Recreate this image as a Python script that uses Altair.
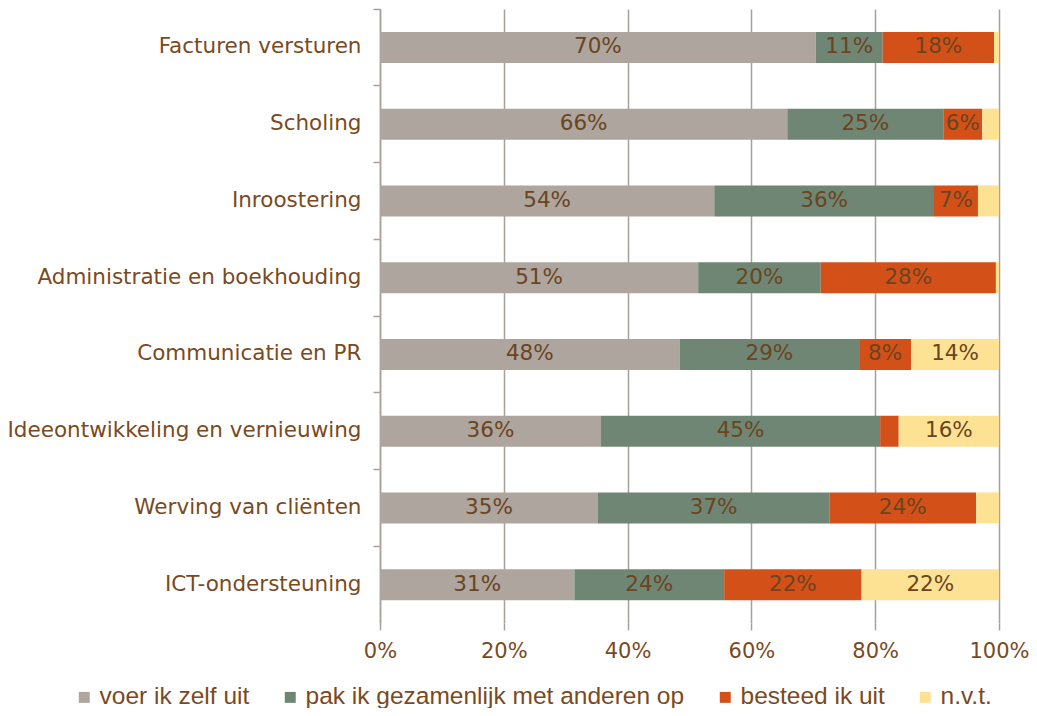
import altair as alt
import pandas as pd

categories = ["Facturen versturen", "Scholing", "Inroostering", "Administratie en boekhouding",
              "Communicatie en PR", "Ideeontwikkeling en vernieuwing", "Werving van cliënten",
              "ICT-ondersteuning"]
series = ["voer ik zelf uit", "pak ik gezamenlijk met anderen op", "besteed ik uit", "n.v.t."]
zelf = [70.4, 65.8, 54.0, 51.4, 48.4, 35.7, 35.2, 31.4]
samen = [10.8, 25.2, 35.5, 19.8, 29.0, 45.1, 37.4, 24.2]
uitbesteed = [18.0, 6.3, 7.1, 28.3, 8.4, 3.0, 23.7, 22.2]
nvt = [0.8, 2.7, 3.4, 0.5, 14.2, 16.2, 3.7, 22.2]
colors = ["#ADA59E", "#6F8674", "#D35018", "#FDE294"]
ticks = [0, 20, 40, 60, 80, 100]

rows = []
for si, (s, vals) in enumerate(zip(series, [zelf, samen, uitbesteed, nvt])):
    for c, v in zip(categories, vals):
        rows.append({"category": c, "series": s, "order": si, "value": v})
df = pd.DataFrame(rows)

brown = "#7A4A1E"
grid = "#A8A09A"

base = alt.Chart(df).transform_stack(
    stack="value", groupby=["category"], as_=["x0", "x1"],
    sort=[alt.SortField("order", order="ascending")]
).transform_calculate(
    mid="(datum.x0 + datum.x1) / 2",
    label="round(datum.value) + '%'"
)

yenc = alt.Y("category:N", sort=categories, title=None,
             scale=alt.Scale(paddingInner=0, paddingOuter=0),
             axis=alt.Axis(labelFont="DejaVu Sans", labelFontSize=21.5, labelColor=brown,
                           labelPadding=12, labelLimit=0, tickSize=7, tickColor=grid, tickWidth=1.5,
                           domainColor=grid, domainWidth=1.5, bandPosition=0, grid=False))

bars = base.mark_bar(height=31).encode(
    x=alt.X("x0:Q", scale=alt.Scale(domain=[0, 100], nice=False), title=None,
            axis=alt.Axis(values=ticks, labelExpr="datum.value + '%'", labelFlush=False,
                          labelFont="DejaVu Sans", labelFontSize=21, labelColor=brown,
                          labelPadding=10, tickSize=7, tickColor=grid, tickWidth=1.5,
                          domain=False, grid=True, gridColor=grid, gridWidth=1.5)),
    x2="x1:Q",
    y=yenc,
    color=alt.Color("series:N", sort=series,
                    scale=alt.Scale(domain=series, range=colors),
                    legend=alt.Legend(title=None, orient="none", direction="horizontal",
                                      legendX=-308, legendY=676,
                                      symbolType="square", symbolSize=120,
                                      symbolStrokeWidth=0, columnPadding=28,
                                      labelFont="Liberation Sans", labelFontSize=24.5,
                                      labelLimit=0, labelColor=brown, labelOffset=3)),
    order=alt.Order("order:Q"),
)

labels = base.transform_filter("datum.value >= 5").mark_text(
    font="DejaVu Sans", fontSize=21.5, color="#6B4420", baseline="middle", align="center"
).encode(
    x=alt.X("mid:Q"),
    y=alt.Y("category:N", sort=categories),
    text="label:N",
)

chart = alt.layer(bars, labels).properties(
    width=619, height=614,
    autosize=alt.AutoSizeParams(type="none"),
    padding={"left": 372, "top": 1, "right": 30, "bottom": 85},
).configure_view(stroke=None)

chart.save("out.html", embed_options={"renderer": "svg", "actions": False})
